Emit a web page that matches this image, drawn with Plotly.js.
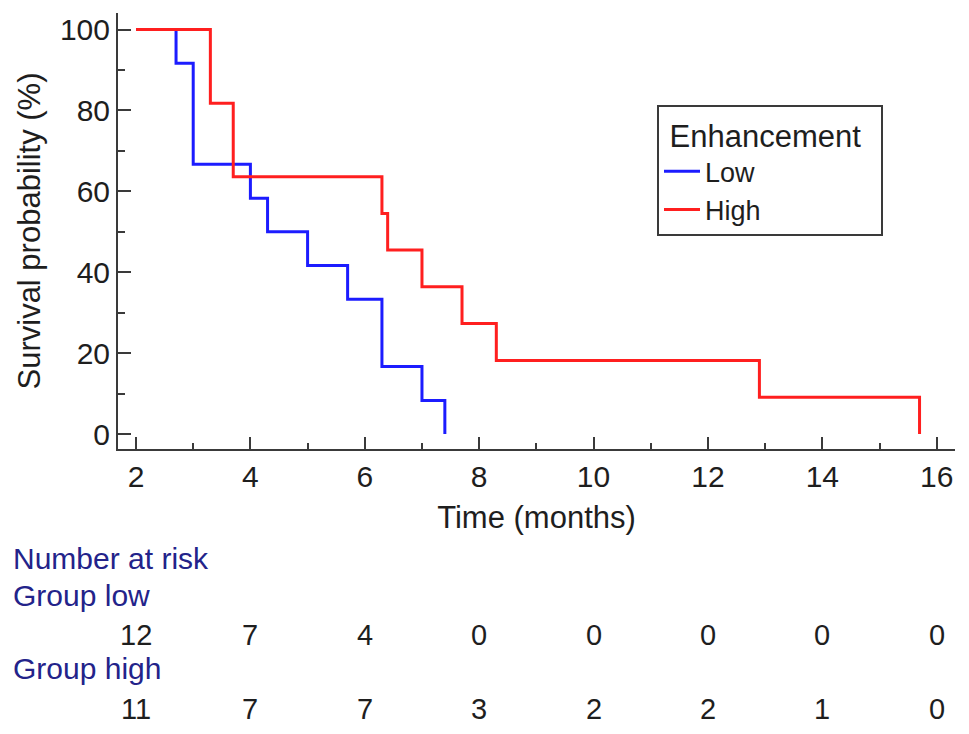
<!DOCTYPE html>
<html>
<head>
<meta charset="utf-8">
<script src="https://cdn.plot.ly/plotly-3.0.1.min.js"></script>
<style>html,body{margin:0;padding:0;background:#fff;}#chart{width:969px;height:734px;}</style>
</head>
<body>
<div id="chart"></div>
<script>
// Kaplan-Meier step data (time in months, survival %)
var lowTime = [2, 2.7, 3.0, 4.0, 4.3, 5.0, 5.7, 6.3, 7.0, 7.4];
var lowSurv = [100, 91.7, 66.7, 58.3, 50.0, 41.7, 33.3, 16.7, 8.3, 0];
var highTime = [2, 3.3, 3.7, 6.3, 6.4, 7.0, 7.7, 8.3, 12.9, 15.7];
var highSurv = [100, 81.8, 63.6, 54.5, 45.5, 36.4, 27.3, 18.2, 9.1, 0];

// Number at risk table
var riskTimes = [2, 4, 6, 8, 10, 12, 14, 16];
var riskLow = [12, 7, 4, 0, 0, 0, 0, 0];
var riskHigh = [11, 7, 7, 3, 2, 2, 1, 0];
var riskLabels = ["Number at risk", "Group low", "Group high"];

var xTicks = [2, 4, 6, 8, 10, 12, 14, 16];
var yTicks = [0, 20, 40, 60, 80, 100];

var FONT = '"Liberation Sans", Arial, Helvetica, sans-serif';
var NAVY = '#23238a';
var AX = '#3a3a3a';
var TXT = '#1e1e1e';

var L = 118, R = 14, T = 13, B = 285, W = 969, H = 734;
var plotH = H - T - B;
function py(p) { return (H - B - p) / plotH; }
function px(p) { return (p - L) / (W - L - R); }

var traces = [
  {x: lowTime, y: lowSurv, mode: 'lines', line: {shape: 'hv', color: '#1c1cff', width: 3}, name: 'Low'},
  {x: highTime, y: highSurv, mode: 'lines', line: {shape: 'hv', color: '#ff1f1f', width: 3}, name: 'High'}
];

var annotations = [];
riskTimes.forEach(function (t, i) {
  annotations.push({x: t, y: py(635), xref: 'x', yref: 'paper', text: String(riskLow[i]),
    showarrow: false, xanchor: 'center', yanchor: 'middle', font: {family: FONT, size: 29, color: TXT}});
  annotations.push({x: t, y: py(709), xref: 'x', yref: 'paper', text: String(riskHigh[i]),
    showarrow: false, xanchor: 'center', yanchor: 'middle', font: {family: FONT, size: 29, color: TXT}});
});
var labelY = [558, 595, 668];
riskLabels.forEach(function (s, i) {
  annotations.push({x: px(11), y: py(labelY[i]), xref: 'paper', yref: 'paper', text: s,
    showarrow: false, xanchor: 'left', yanchor: 'middle', font: {family: FONT, size: 30, color: NAVY}});
});

var layout = {
  width: W, height: H,
  margin: {l: L, r: R, t: T, b: B, pad: 0},
  paper_bgcolor: '#fff', plot_bgcolor: '#fff',
  font: {family: FONT, size: 30, color: TXT},
  showlegend: true,
  legend: {
    x: px(657), y: py(105), xanchor: 'left', yanchor: 'top',
    bordercolor: AX, borderwidth: 2, bgcolor: '#fff',
    font: {family: FONT, size: 27, color: TXT},
    title: {text: '\u00a0Enhancement\u00a0\u00a0', font: {family: FONT, size: 31, color: TXT}},
    itemwidth: 36
  },
  xaxis: {
    range: [1.685, 16.32], tickmode: 'array', tickvals: xTicks, ticktext: xTicks.map(String),
    ticks: 'inside', ticklen: 12, tickwidth: 2, tickcolor: AX,
    minor: {tickmode: 'linear', tick0: 3, dtick: 2, ticks: 'inside', ticklen: 6, tickwidth: 2, tickcolor: AX, showgrid: false},
    showline: true, linecolor: AX, linewidth: 2, showgrid: false, zeroline: false,
    tickfont: {family: FONT, size: 30, color: TXT},
    title: {text: 'Time (months)', font: {family: FONT, size: 31, color: TXT}, standoff: 14},
    automargin: false
  },
  yaxis: {
    range: [-3.7, 104.1], tickmode: 'array', tickvals: yTicks, ticktext: yTicks.map(String),
    ticks: 'inside', ticklen: 13, tickwidth: 2, tickcolor: AX,
    minor: {tickmode: 'linear', tick0: 10, dtick: 20, ticks: 'inside', ticklen: 7, tickwidth: 2, tickcolor: AX, showgrid: false},
    showline: true, linecolor: AX, linewidth: 2, showgrid: false, zeroline: false,
    tickfont: {family: FONT, size: 30, color: TXT},
    title: {text: 'Survival probability (%)', font: {family: FONT, size: 31, color: TXT}, standoff: 10},
    automargin: false
  },
  annotations: annotations
};

Plotly.newPlot('chart', traces, layout, {displayModeBar: false, staticPlot: true});
</script>
</body>
</html>
